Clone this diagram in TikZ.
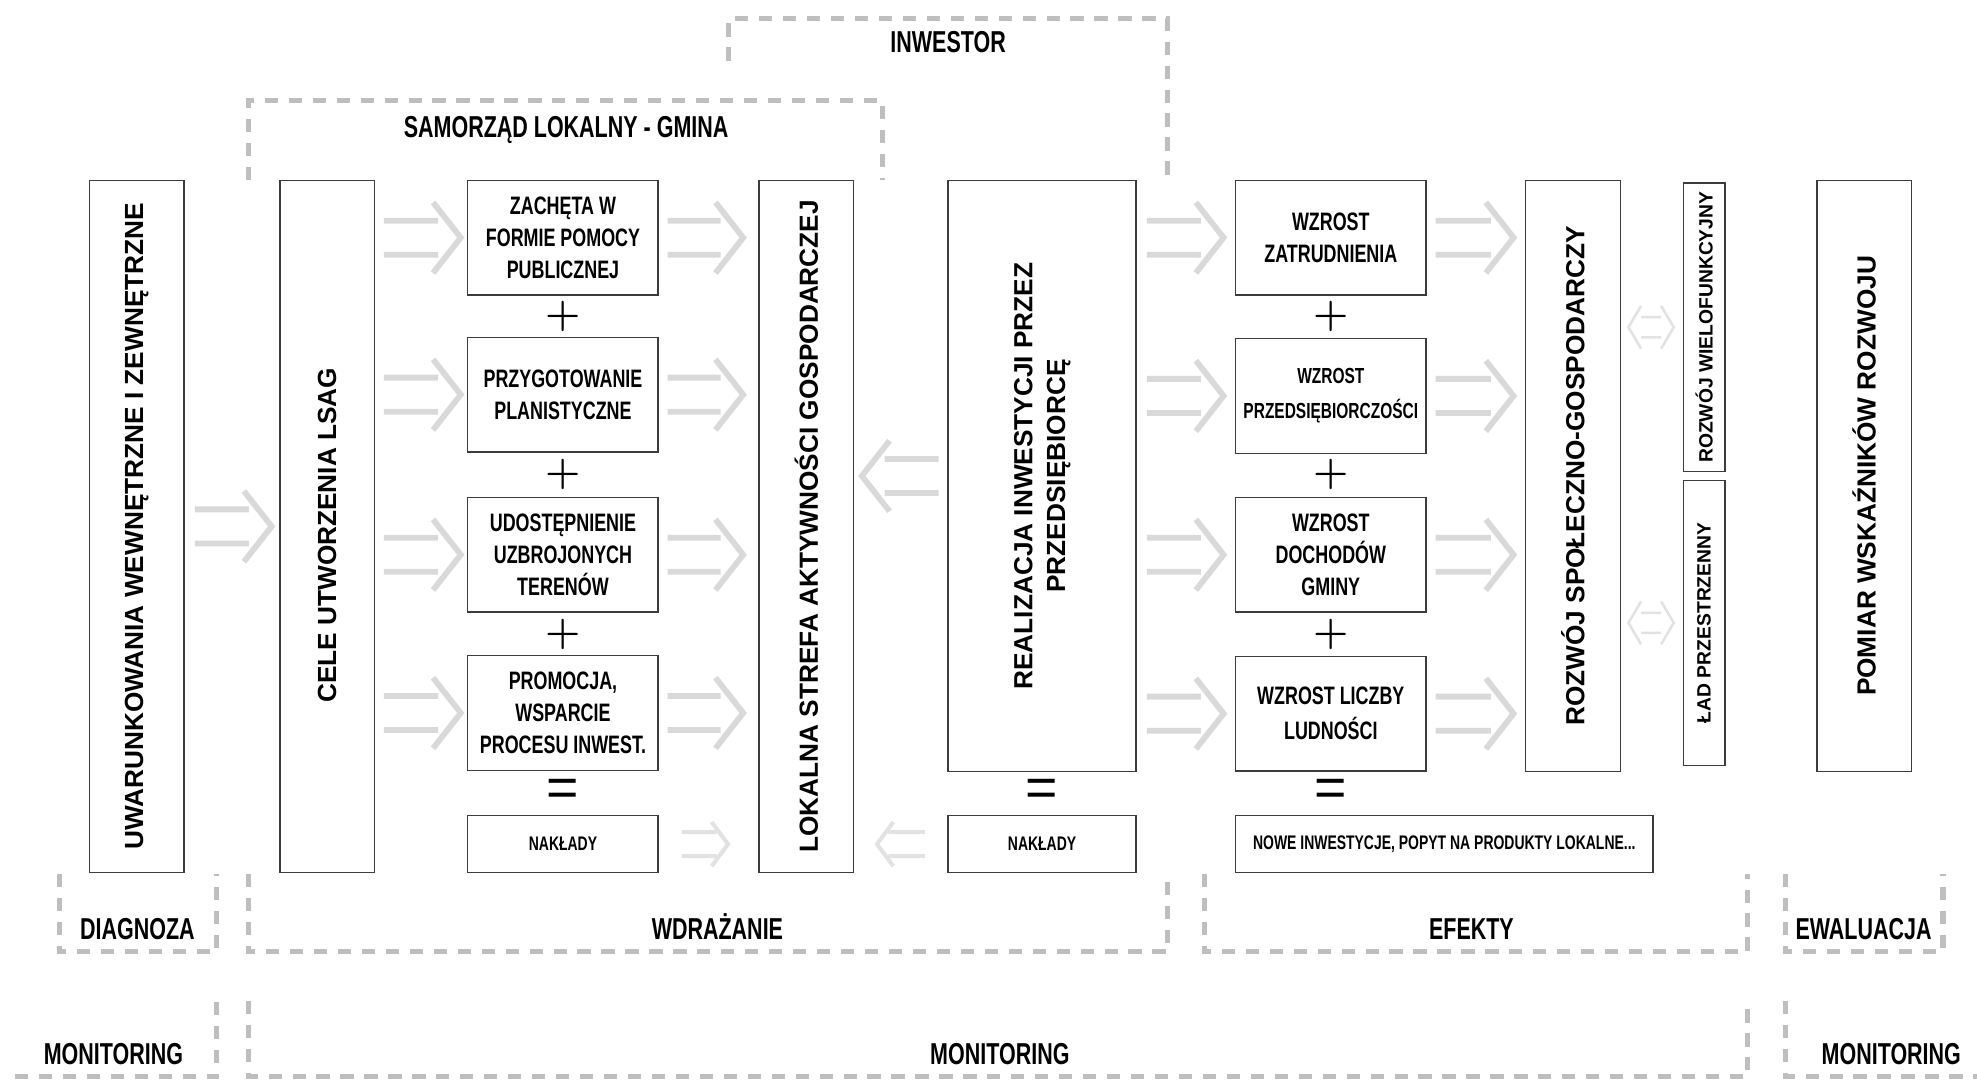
\documentclass[tikz,border=0pt]{standalone}
\usepackage{fontspec}
\usepackage{graphicx}
\setmainfont{Liberation Sans}
\newfontfamily\narrowf[FakeStretch=0.71]{Liberation Sans}
\newfontfamily\lmf{Latin Modern Roman}
\usetikzlibrary{calc}

\definecolor{dashgray}{RGB}{190,190,190}
\definecolor{arrgray}{RGB}{217,217,217}
\definecolor{arrlight}{RGB}{226,226,226}
\definecolor{boxline}{RGB}{60,60,60}

\tikzset{
  box/.style={draw=boxline, line width=1.1pt, inner sep=0pt, align=center, text=black},
  hbox/.style={box, minimum width=151pt, minimum height=91pt, font=\narrowf\bfseries\fontsize{20}{25.5}\selectfont},
  smallbox/.style={box, minimum height=45pt, font=\narrowf\bfseries\fontsize{15.6}{18}\selectfont},
  vbox/.style={box, minimum width=75pt, font=\bfseries\fontsize{20.8}{26}\selectfont},
  thinbox/.style={box, minimum width=33pt, font=\bfseries\fontsize{15.3}{18}\selectfont},
  region/.style={draw=dashgray, line width=4pt, dash pattern=on 10.5pt off 8.5pt},
  title/.style={font=\narrowf\bfseries\fontsize{24}{28}\selectfont, inner sep=0pt, anchor=base},
  plussign/.style={font=\lmf\bfseries\fontsize{32}{32}\selectfont, inner sep=0pt},
  eqsign/.style={font=\fontsize{44}{44}\selectfont, inner sep=0pt},
  rarr/.style={draw=arrgray, line width=4.6pt, line cap=butt, line join=miter, to path={
    ($(\tikztostart)+(0pt,13.5pt)$) -- ($(\tikztotarget)+(-18pt,13.5pt)$)
    ($(\tikztostart)+(0pt,-13.5pt)$) -- ($(\tikztotarget)+(-18pt,-13.5pt)$)
    ($(\tikztotarget)+(-22pt,28pt)$) -- (\tikztotarget) -- ($(\tikztotarget)+(-22pt,-28pt)$)}},
  larr/.style={draw=arrgray, line width=4.6pt, line cap=butt, line join=miter, to path={
    ($(\tikztostart)+(0pt,13.5pt)$) -- ($(\tikztotarget)+(18pt,13.5pt)$)
    ($(\tikztostart)+(0pt,-13.5pt)$) -- ($(\tikztotarget)+(18pt,-13.5pt)$)
    ($(\tikztotarget)+(22pt,28pt)$) -- (\tikztotarget) -- ($(\tikztotarget)+(22pt,-28pt)$)}},
  srarr/.style={draw=arrlight, line width=3.2pt, line cap=butt, line join=miter, to path={
    ($(\tikztostart)+(0pt,9.5pt)$) -- ($(\tikztotarget)+(-9pt,9.5pt)$)
    ($(\tikztostart)+(0pt,-9.5pt)$) -- ($(\tikztotarget)+(-9pt,-9.5pt)$)
    ($(\tikztotarget)+(-13pt,17.5pt)$) -- (\tikztotarget) -- ($(\tikztotarget)+(-13pt,-17.5pt)$)}},
  slarr/.style={draw=arrlight, line width=3.2pt, line cap=butt, line join=miter, to path={
    ($(\tikztostart)+(0pt,9.5pt)$) -- ($(\tikztotarget)+(9pt,9.5pt)$)
    ($(\tikztostart)+(0pt,-9.5pt)$) -- ($(\tikztotarget)+(9pt,-9.5pt)$)
    ($(\tikztotarget)+(13pt,17.5pt)$) -- (\tikztotarget) -- ($(\tikztotarget)+(13pt,-17.5pt)$)}},
  bidir/.style={draw=arrlight, line width=2pt, line cap=butt, line join=miter, to path={
    ($(\tikztostart)+(10pt,8pt)$) -- ($(\tikztotarget)+(-10pt,8pt)$)
    ($(\tikztostart)+(10pt,-8pt)$) -- ($(\tikztotarget)+(-10pt,-8pt)$)
    ($(\tikztostart)+(10pt,17pt)$) -- (\tikztostart) -- ($(\tikztostart)+(10pt,-17pt)$)
    ($(\tikztotarget)+(-10pt,17pt)$) -- (\tikztotarget) -- ($(\tikztotarget)+(-10pt,-17pt)$)}}
}

\begin{document}
\begin{tikzpicture}[x=1pt,y=-1pt]
\useasboundingbox (0,0) rectangle (1568,857);
\fill[white] (0,0) rectangle (1568,857);

% top groups
\draw[region] (578,48) -- (578,15) -- (926,15) -- (926,143);
\node[title] (inw) at (752,42) {INWESTOR};
\draw[region] (197,143) -- (197,80) -- (700,80) -- (700,143);
\node[title] (sam) at (449,109) {SAMORZĄD LOKALNY - GMINA};

% tall boxes
\node[vbox, minimum height=549pt] (uwar) at (108.5,417.5) {\rotatebox{90}{UWARUNKOWANIA WEWNĘTRZNE I ZEWNĘTRZNE}};
\node[vbox, minimum height=549pt] (cele) at (259.5,417.5) {\rotatebox{90}{CELE UTWORZENIA LSAG\hspace*{14pt}}};
\node[vbox, minimum height=549pt] (lsag) at (639.5,417.5) {\rotatebox{90}{LOKALNA STREFA AKTYWNOŚCI GOSPODARCZEJ}};
\node[vbox, minimum width=149pt, minimum height=469pt] (real) at (826.5,377.5) {\rotatebox{90}{\begin{tabular}{@{}c@{}}REALIZACJA INWESTYCJI PRZEZ\\PRZEDSIĘBIORCĘ\end{tabular}}};
\node[vbox, minimum height=469pt] (roz) at (1247.5,377.5) {\rotatebox{90}{ROZWÓJ SPOŁECZNO-GOSPODARCZY}};
\node[vbox, minimum height=469pt] (pom) at (1478.5,377.5) {\rotatebox{90}{POMIAR WSKAŹNIKÓW ROZWOJU}};
\node[thinbox, minimum height=229pt] (wielo) at (1351.5,259.5) {\rotatebox{90}{ROZWÓJ WIELOFUNKCYJNY}};
\node[thinbox, minimum height=226pt] (lad) at (1351.5,494) {\rotatebox{90}{ŁAD PRZESTRZENNY}};

% middle column
\node[hbox] (m1) at (446.5,188.5) {ZACHĘTA W\\FORMIE POMOCY\\PUBLICZNEJ};
\node[hbox] (m2) at (446.5,313) {PRZYGOTOWANIE\\PLANISTYCZNE};
\node[hbox] (m3) at (446.5,440) {UDOSTĘPNIENIE\\UZBROJONYCH\\TERENÓW};
\node[hbox] (m4) at (446.5,565.5) {PROMOCJA,\\WSPARCIE\\PROCESU INWEST.};
\node[smallbox, minimum width=151pt] (n1) at (446.5,669.5) {NAKŁADY};

% effects column
\node[hbox] (w1) at (1055.5,188.5) {WZROST\\ZATRUDNIENIA};
\node[hbox, font=\narrowf\bfseries\fontsize{17.3}{27.5}\selectfont] (w2) at (1055.5,314) {WZROST\\PRZEDSIĘBIORCZOŚCI};
\node[hbox] (w3) at (1055.5,440) {WZROST\\DOCHODÓW\\GMINY};
\node[hbox, font=\narrowf\bfseries\fontsize{20}{28}\selectfont] (w4) at (1055.5,566) {WZROST LICZBY\\LUDNOŚCI};
\node[smallbox, minimum width=149pt] (n2) at (826.5,669.5) {NAKŁADY};
\node[smallbox, minimum width=331pt] (nowe) at (1145.5,669.5) {NOWE INWESTYCJE, POPYT NA PRODUKTY LOKALNE...};

% signs
\node[plussign] (p1) at (446.5,251) {+};
\node[plussign] (p2) at (446.5,376) {+};
\node[plussign] (p3) at (446.5,503) {+};
\node[eqsign] (e1) at (446.5,629) {=};
\node[eqsign] (e2) at (826.5,629) {=};
\node[plussign] (p4) at (1055.5,251) {+};
\node[plussign] (p5) at (1055.5,376) {+};
\node[plussign] (p6) at (1055.5,503) {+};
\node[eqsign] (e3) at (1055.5,629) {=};

% arrows
\draw[rarr] ([xshift=8pt]uwar.east) to ([xshift=-6pt]cele.west);
\foreach \m in {m1,m2,m3,m4} {
  \draw[rarr] ([xshift=7pt]cele.east |- \m.west) to ([xshift=-5pt]\m.west);
  \draw[rarr] ([xshift=7pt]\m.east) to ([xshift=-12pt]lsag.west |- \m.east);
}
\draw[larr] ([xshift=-7pt]real.west) to ([xshift=6pt]lsag.east |- real.west);
\foreach \w in {w1,w2,w3,w4} {
  \draw[rarr] ([xshift=8pt]real.east |- \w.west) to ([xshift=-9pt]\w.west);
  \draw[rarr] ([xshift=7pt]\w.east) to ([xshift=-9pt]roz.west |- \w.east);
}
\draw[srarr] ([xshift=18pt]n1.east) to ([xshift=-24pt]lsag.west |- n1.east);
\draw[slarr] ([xshift=-18pt]n2.west) to ([xshift=18pt]lsag.east |- n2.west);
\draw[bidir] ([xshift=6pt]roz.east |- wielo.west) to ([xshift=-7pt]wielo.west);
\draw[bidir] ([xshift=6pt]roz.east |- lad.west) to ([xshift=-7pt]lad.west);

% phase groups
\draw[region] (47,693) -- (47,755) -- (172,755) -- (172,693);
\node[title] (diag) at (109,745) {DIAGNOZA};
\draw[region] (197,693) -- (197,755) -- (926,755) -- (926,693);
\node[title] (wdr) at (569,745) {WDRAŻANIE};
\draw[region] (955,693) -- (955,755) -- (1386,755) -- (1386,693);
\node[title] (efe) at (1167,745) {EFEKTY};
\draw[region] (1416,693) -- (1416,755) -- (1541,755) -- (1541,693);
\node[title] (ewa) at (1478,745) {EWALUACJA};

% monitoring
\draw[region] (12,854) -- (172,854) -- (172,794);
\node[title] (mon1) at (90,844) {MONITORING};
\draw[region] (197,794) -- (197,854) -- (1386,854) -- (1386,794);
\node[title] (mon2) at (793,844) {MONITORING};
\draw[region] (1416,794) -- (1416,854) -- (1568,854);
\node[title] (mon3) at (1500,844) {MONITORING};
\end{tikzpicture}
\end{document}
